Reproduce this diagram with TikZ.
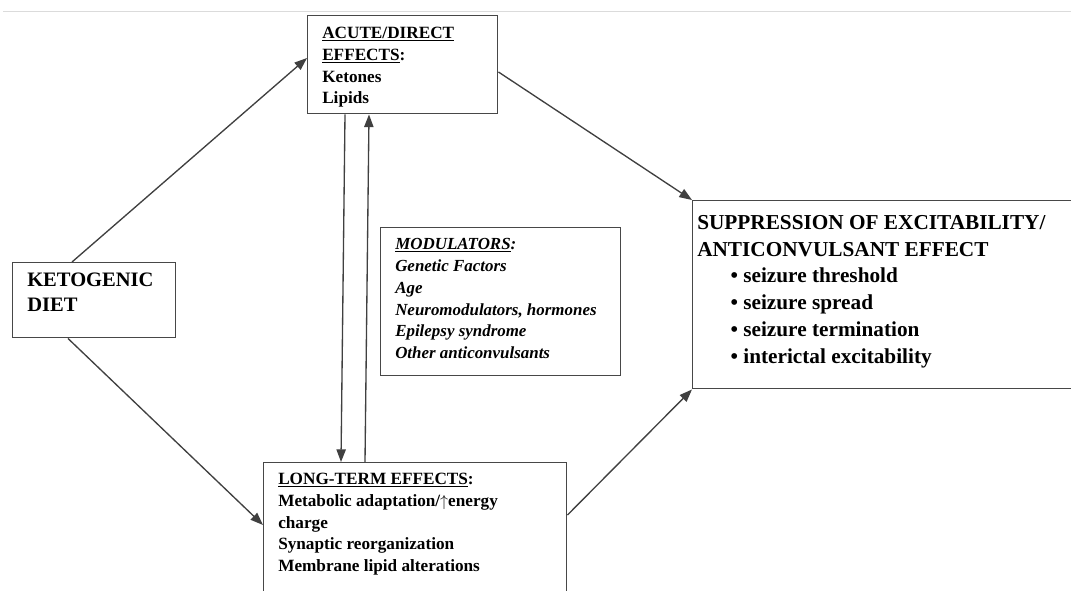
\documentclass[tikz,border=0pt]{standalone}
\usepackage{fontspec}
\setmainfont{Liberation Serif}
\usetikzlibrary{calc,arrows.meta}
\tikzset{
  box/.style={draw=black!72, line width=1.1pt, rectangle, inner sep=0pt, anchor=north west},
  txt/.style={anchor=north west, inner sep=0pt, align=left, text=black},
  smallfont/.style={font=\fontsize{12.9pt}{16.3pt}\selectfont\bfseries},
  modfont/.style={font=\fontsize{12.7pt}{16.4pt}\selectfont\bfseries\itshape},
  ketofont/.style={font=\fontsize{15.4pt}{18.75pt}\selectfont\bfseries},
  suppfont/.style={font=\fontsize{15.95pt}{20.1pt}\selectfont\bfseries},
  conn/.style={draw=black!75, line width=1pt, -{Triangle[length=9.5pt,width=7pt]}},
}
\begin{document}
\begin{tikzpicture}[x=0.75pt,y=-0.75pt]
\clip (0,0) rectangle (1071,590);
\fill[white] (0,0) rectangle (1071,590);
\draw[black!14, line width=0.8pt] (3,11.5) -- (1071,11.5);

% boxes
\node[box, minimum width=122.25pt, minimum height=56.25pt] (keto) at (12,262) {};
\node[box, minimum width=142.5pt, minimum height=73.5pt] (acute) at (307,15) {};
\node[box, minimum width=180pt, minimum height=111pt] (mod) at (380,227) {};
\node[box, minimum width=227.25pt, minimum height=103.5pt] (lt) at (263,462) {};
\node[box, minimum width=294.75pt, minimum height=141pt] (supp) at (692,200) {};

% texts
\node[txt, ketofont] (keto-t) at ($(keto.north west)+(15,11)$) {KETOGENIC\\DIET};
\node[txt, smallfont] (acute-t) at ($(acute.north west)+(15,12)$)
  {\underline{ACUTE/DIRECT}\\\underline{EFFECTS}:\\Ketones\\Lipids};
\node[txt, modfont] (mod-t) at ($(mod.north west)+(15,11)$)
  {\underline{MODULATORS}:\\Genetic Factors\\Age\\Neuromodulators, hormones\\Epilepsy syndrome\\Other anticonvulsants};
\node[txt, smallfont] (lt-t) at ($(lt.north west)+(15,11)$)
  {\underline{LONG-TERM EFFECTS}:\\Metabolic adaptation/$\uparrow$energy\\charge\\Synaptic reorganization\\Membrane lipid alterations};
\node[txt, suppfont] (supp-t) at ($(supp.north west)+(5,15)$)
  {SUPPRESSION OF EXCITABILITY/\\ANTICONVULSANT EFFECT\\
   \hspace*{25pt}\textbullet\ seizure threshold\\
   \hspace*{25pt}\textbullet\ seizure spread\\
   \hspace*{25pt}\textbullet\ seizure termination\\
   \hspace*{25pt}\textbullet\ interictal excitability};

% connectors
\draw[conn] ($(keto.north west)+(60,0)$) -- ($(acute.north west)+(0,43)$);
\draw[conn] ($(keto.south west)+(56,0)$) -- ($(lt.north west)+(0,63)$);
\draw[conn] ($(acute.north east)+(0,57)$) -- (supp.north west);
\draw[conn] ($(lt.north east)+(0,53)$) -- (supp.south west);
\draw[conn] ($(acute.south west)+(38,0)$) -- ($(lt.north west)+(78,0)$);
\draw[conn] ($(lt.north west)+(102,0)$) -- ($(acute.south west)+(62,0)$);
\end{tikzpicture}
\end{document}
